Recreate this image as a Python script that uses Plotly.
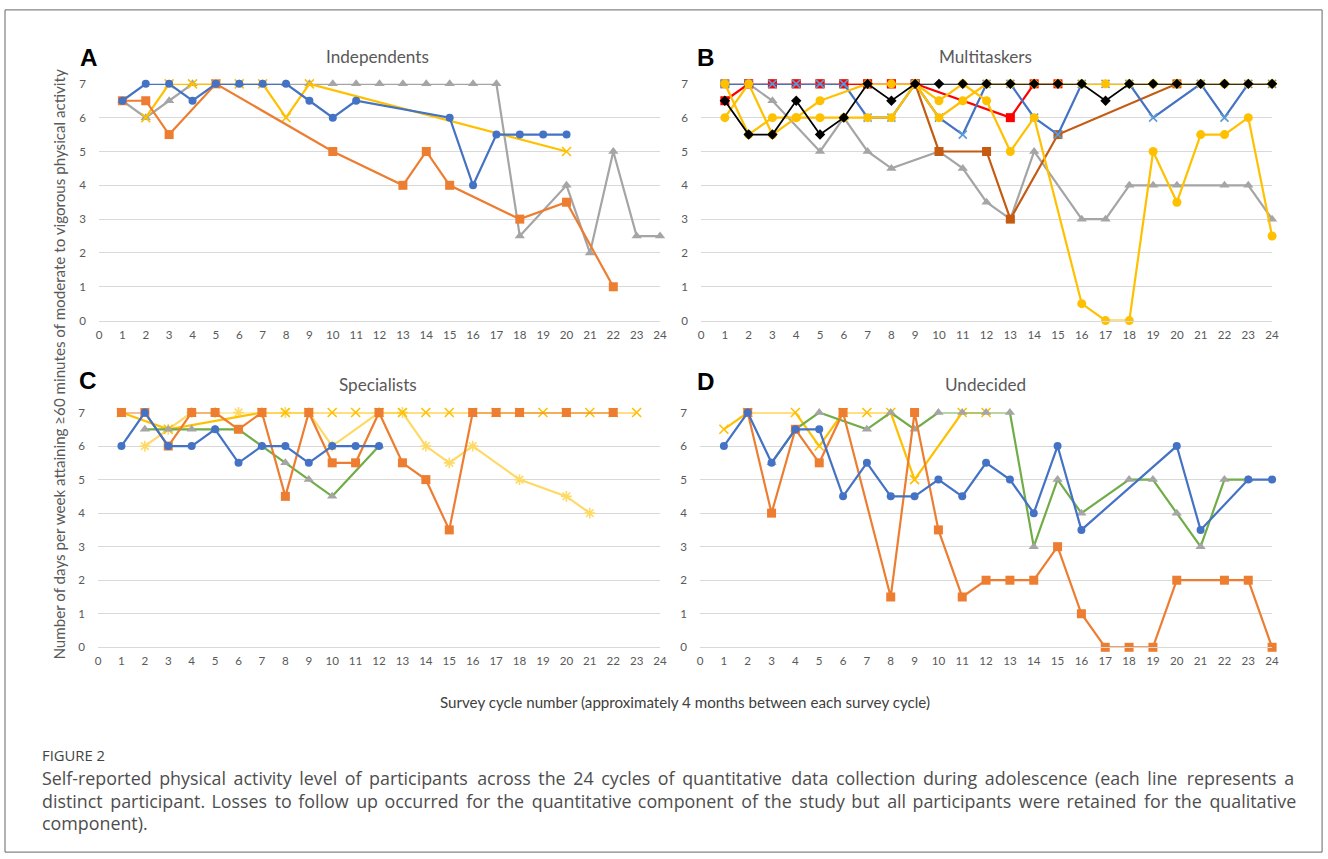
import plotly.graph_objects as go

W, H = 1328, 859
cycles = list(range(1, 25))
N = None

# ---- Panel A: Independents ----
A_blue = [6.5, 7, 7, 6.5, 7, 7, 7, 7, 6.5, 6, 6.5, N, N, N, 6, 4, 5.5, 5.5, 5.5, 5.5, N, N, N, N]
A_orange = [6.5, 6.5, 5.5, N, 7, N, N, N, N, 5, N, N, 4, 5, 4, N, N, 3, N, 3.5, N, 1, N, N]
A_gray = [6.5, 6, 6.5, 7, 7, 7, 7, 7, 7, 7, 7, 7, 7, 7, 7, 7, 7, 2.5, N, 4, 2, 5, 2.5, 2.5]
A_gold = [N, 6, 7, 7, 7, 7, 7, 6, 7, N, N, N, N, N, N, N, N, N, N, 5, N, N, N, N]

# ---- Panel B: Multitaskers ----
B_gray = [7, 7, 6.5, N, 5, 6, 5, 4.5, N, 5, 4.5, 3.5, 3, 5, N, 3, 3, 4, 4, 4, N, 4, 4, 3]
B_brown = [7, 7, 7, 7, 7, 7, 7, 7, 7, 5, N, 5, 3, N, 5.5, N, N, N, N, 7, N, N, N, N]
B_red = [6.5, 7, 7, 7, 7, 7, 7, 7, 7, N, N, N, 6, 7, 7, N, N, N, N, N, N, N, N, N]
B_blue = [7, 7, 7, 7, 7, 7, 6, 6, 7, 6, 5.5, 7, 7, 6, 5.5, 7, 7, 7, 6, N, 7, 6, 7, 7]
B_gold_low = [6, 7, 5.5, 6, 6.5, N, 7, 7, 7, 6.5, 7, 6.5, 5, 6, N, 0.5, 0, 0, 5, 3.5, 5.5, 5.5, 6, 2.5]
B_gold_high = [7, 5.5, 6, 6, 6, 6, 6, 6, 7, 6, 6.5, 7, 7, 7, 7, 7, 7, 7, 7, 7, 7, 7, 7, 7]
B_black = [6.5, 5.5, 5.5, 6.5, 5.5, 6, 7, 6.5, 7, 7, 7, 7, 7, 7, 7, 7, 6.5, 7, 7, 7, 7, 7, 7, 7]

# ---- Panel C: Specialists ----
C_lightyellow = [N, 6, 6.5, 7, 7, 7, 7, 7, 7, 6, N, 7, 7, 6, 5.5, 6, N, 5, N, 4.5, 4, N, N, N]
C_gold = [7, N, 6.5, N, N, N, 7, 7, 7, 7, 7, 7, 7, 7, 7, 7, 7, 7, 7, 7, 7, 7, 7, N]
C_green = [N, 6.5, 6.5, 6.5, 6.5, 6.5, 6, 5.5, 5, 4.5, N, 6, N, N, N, N, N, N, N, N, N, N, N, N]
C_orange = [7, 7, 6, 7, 7, 6.5, 7, 4.5, 7, 5.5, 5.5, 7, 5.5, 5, 3.5, 7, 7, 7, N, 7, N, 7, N, N]
C_blue = [6, 7, 6, 6, 6.5, 5.5, 6, 6, 5.5, 6, 6, 6, N, N, N, N, N, N, N, N, N, N, N, N]

# ---- Panel D: Undecided ----
D_gold = [6.5, 7, N, 7, 6, 7, 7, 7, 5, N, 7, 7, N, N, N, N, N, N, N, N, N, N, N, N]
D_green = [N, N, 5.5, 6.5, 7, N, 6.5, 7, 6.5, 7, 7, 7, 7, 3, 5, 4, N, 5, 5, 4, 3, 5, 5, N]
D_orange = [N, 7, 4, 6.5, 5.5, 7, N, 1.5, 7, 3.5, 1.5, 2, 2, 2, 3, 1, 0, 0, 0, 2, N, 2, 2, 0]
D_blue = [6, 7, 5.5, 6.5, 6.5, 4.5, 5.5, 4.5, 4.5, 5, 4.5, 5.5, 5, 4, 6, 3.5, N, N, N, 6, 3.5, N, 5, 5]

y_ticks = [0, 1, 2, 3, 4, 5, 6, 7]
x_ticks = list(range(0, 25))

panel_titles = ["Independents", "Multitaskers", "Specialists", "Undecided"]
panel_letters = ["A", "B", "C", "D"]
y_title = "Number of days per week attaining ≥60 minutes of moderate to vigorous physical activity"
x_title = "Survey cycle number (approximately 4 months between each survey cycle)"
fig_label = "FIGURE 2"
caption_lines = [
    "Self-reported physical activity level of participants across the 24 cycles of quantitative data collection during adolescence (each line represents a",
    "distinct participant. Losses to follow up occurred for the quantitative component of the study but all participants were retained for the qualitative",
    "component).",
]
# extra spacing cycled after each blank to imitate the justified caption
caption_gaps = [
    ["\u2009", "\u2009", "\u2009", "\u2009", "\u2009", "\u2009\u200a"],
    ["\u2006", "\u200a"],
    [""],
]

BLUE = "#4472C4"; ORANGE = "#ED7D31"; GRAY = "#A5A5A5"; GOLD = "#FFC000"
GREEN = "#70AD47"; LYEL = "#FFD966"; BROWN = "#C55A11"; RED = "#FF0000"; BLACK = "#000000"
LBLUE = "#5B9BD5"

# the photographed page comes out very slightly shrunk; compensate placement
SX, OX = 0.9924, 3.0
SY, OY = 0.9858, 6.1
FS = 1 / 0.99

def px2x(p):
    return ((p - OX) / SX) / W

def px2y(p):
    return 1 - ((p - OY) / SY) / H

# panel pixel boxes in the reference (left, right, top, bottom)
boxes = [(99, 660, 83, 320), (701, 1272, 83, 320), (98, 660, 412, 647), (700, 1272, 412, 647)]

fig = go.Figure()

def add(panel, vals, color, symbol, size, mcolor=None, lw=2.2):
    ax = "" if panel == 1 else str(panel)
    mc = mcolor or color
    marker = dict(symbol=symbol, size=size, color=mc)
    if symbol in ("x-thin", "asterisk-open"):
        marker["line"] = dict(color=mc, width=1.6)
    else:
        marker["line"] = dict(width=0)
    fig.add_trace(go.Scatter(
        x=cycles, y=vals, mode="lines+markers", connectgaps=True,
        line=dict(color=color, width=lw), marker=marker,
        xaxis="x" + ax, yaxis="y" + ax, cliponaxis=False, showlegend=False,
        hoverinfo="x+y"))

# Panel A
add(1, A_gray, GRAY, "triangle-up", 9)
add(1, A_gold, GOLD, "x-thin", 9)
add(1, A_orange, ORANGE, "square", 9)
add(1, A_blue, BLUE, "circle", 8)
# Panel B
add(2, B_gray, GRAY, "triangle-up", 9)
add(2, B_brown, BROWN, "square", 9)
add(2, B_red, RED, "square", 9)
add(2, B_blue, BLUE, "x-thin", 8, mcolor=LBLUE)
add(2, B_gold_low, GOLD, "circle", 9)
add(2, B_gold_high, GOLD, "circle", 9)
add(2, B_black, BLACK, "diamond", 8, lw=1.8)
# Panel C
add(3, C_lightyellow, LYEL, "asterisk-open", 9)
add(3, C_gold, GOLD, "x-thin", 9)
add(3, C_green, GREEN, "triangle-up", 9, mcolor=GRAY)
add(3, C_orange, ORANGE, "square", 9)
add(3, C_blue, BLUE, "circle", 8)
# Panel D
add(4, D_gold, GOLD, "x-thin", 9)
add(4, D_green, GREEN, "triangle-up", 9, mcolor=GRAY)
add(4, D_orange, ORANGE, "square", 9)
add(4, D_blue, BLUE, "circle", 8)

TICKFONT = dict(family="Lato, 'Open Sans', sans-serif", size=11.5 * FS, color="#595959")
layout = dict(
    width=W, height=H, margin=dict(l=0, r=0, t=0, b=0),
    paper_bgcolor="white", plot_bgcolor="white",
)
for i, (l, r, t, b) in enumerate(boxes, start=1):
    ax = "" if i == 1 else str(i)
    layout["xaxis" + ax] = dict(
        domain=[px2x(l), px2x(r)], range=[0, 24], anchor="y" + ax,
        tickmode="array", tickvals=x_ticks, ticktext=[str(v) for v in x_ticks],
        showgrid=False, zeroline=False, showline=True, linecolor="#D9D9D9", linewidth=1,
        ticks="", tickfont=TICKFONT, ticklabelstandoff=3, fixedrange=True)
    layout["yaxis" + ax] = dict(
        domain=[px2y(b), px2y(t)], range=[0, 7], anchor="x" + ax,
        tickmode="array", tickvals=y_ticks, ticktext=[str(v) for v in y_ticks],
        showgrid=True, gridcolor="#D9D9D9", gridwidth=1, zeroline=False, showline=False,
        ticks="", tickfont=TICKFONT, ticklabelstandoff=12, fixedrange=True)
fig.update_layout(**layout)

ann = []
title_pos = [(377, 56), (985, 56), (378, 384), (985, 384)]
letter_pos = [(89, 57), (706, 57), (88, 380), (706, 381)]
for i in range(4):
    tx, ty = title_pos[i]
    ann.append(dict(text=panel_titles[i], x=px2x(tx), y=px2y(ty), xref="paper", yref="paper",
                    xanchor="center", yanchor="middle", showarrow=False,
                    font=dict(family="Lato, sans-serif", size=17 * FS, color="#595959")))
    lx, ly = letter_pos[i]
    ann.append(dict(text="<b>" + panel_letters[i] + "</b>", x=px2x(lx), y=px2y(ly), xref="paper", yref="paper",
                    xanchor="center", yanchor="middle", showarrow=False,
                    font=dict(family="Liberation Sans, Arial, sans-serif", size=24 * FS, color="#000000")))
ann.append(dict(text=y_title, x=px2x(59), y=px2y(364), xref="paper", yref="paper",
                xanchor="center", yanchor="middle", showarrow=False, textangle=-90,
                font=dict(family="Lato, sans-serif", size=15 * FS, color="#595959")))
ann.append(dict(text=x_title, x=px2x(685), y=px2y(702), xref="paper", yref="paper",
                xanchor="center", yanchor="middle", showarrow=False,
                font=dict(family="Lato, sans-serif", size=15 * FS, color="#404040")))
ann.append(dict(text=fig_label, x=px2x(40), y=px2y(755), xref="paper", yref="paper",
                xanchor="left", yanchor="middle", showarrow=False,
                font=dict(family="Open Sans, sans-serif", size=14.8, color="#444444")))

def spread(line, gaps):
    words = line.split(" ")
    out = words[0]
    for j, w in enumerate(words[1:]):
        out += " " + gaps[j % len(gaps)] + w
    return out

for k, line in enumerate(caption_lines):
    txt = spread(line, caption_gaps[k])
    ann.append(dict(text=txt, x=px2x(40), y=px2y(778 + 22.5 * k), xref="paper", yref="paper",
                    xanchor="left", yanchor="middle", showarrow=False,
                    font=dict(family="Open Sans, sans-serif", size=17.85, color="#4D4D4D")))
fig.update_layout(annotations=ann)

fig.add_shape(type="rect", xref="paper", yref="paper",
              x0=px2x(5), x1=px2x(1322), y0=px2y(852), y1=px2y(9),
              line=dict(color="#666666", width=1), fillcolor="rgba(0,0,0,0)", layer="below")

fig.write_html("out.html", config={"displayModeBar": False},
               post_script="document.body.style.margin='0';document.body.style.overflow='hidden';")
